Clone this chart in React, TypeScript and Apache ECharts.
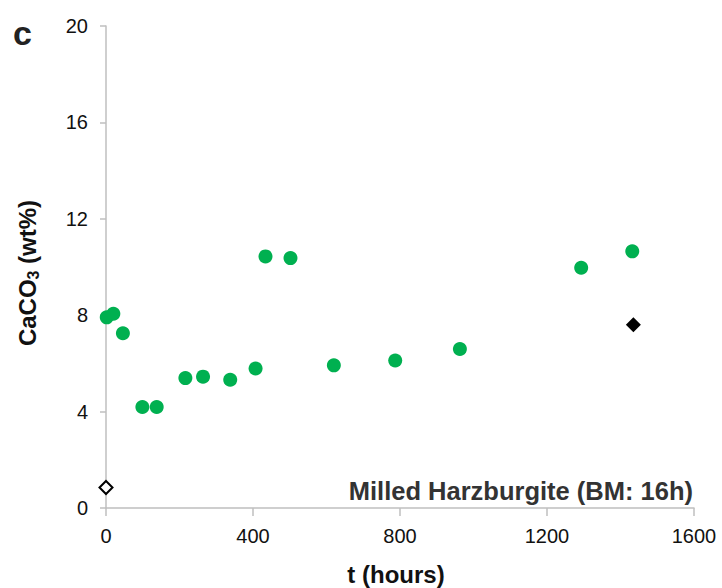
import React, { useEffect, useRef } from "react";
import * as echarts from "echarts";

// Milled harzburgite carbonation: CaCO3 content vs reaction time
const hours = [2, 20, 46, 99, 138, 216, 264, 338, 407, 434, 502, 620, 787, 963, 1293, 1432];
const caco3 = [7.91, 8.06, 7.25, 4.19, 4.19, 5.39, 5.45, 5.32, 5.79, 10.44, 10.37, 5.92, 6.12, 6.6, 9.97, 10.65];

// Starting material (open diamond) and reference sample (filled diamond)
const initialPoint = [0, 0.85];
const referencePoint = [1435, 7.6];

const xTicks = { min: 0, max: 1600, interval: 400 };
const yTicks = { min: 0, max: 20, interval: 4 };

const FONT = "'Liberation Sans', Arial, sans-serif";

export default function App() {
  const ref = useRef<HTMLDivElement>(null);

  useEffect(() => {
    if (!ref.current) return;
    const chart = echarts.init(ref.current, null, { renderer: "svg" });
    const axisLine = { lineStyle: { color: "#bfbfbf", width: 1.5 } };
    const label = {
      color: "#111",
      fontSize: 20,
      fontFamily: FONT,
      margin: 18,
      formatter: (v: number) => String(v),
    };
    chart.setOption({
      animation: false,
      backgroundColor: "#ffffff",
      grid: { left: 106, right: 28, top: 26, bottom: 80 },
      xAxis: {
        type: "value",
        ...xTicks,
        axisLine: { show: true, ...axisLine },
        axisTick: { show: true, length: 8, lineStyle: { color: "#bfbfbf", width: 1.5 } },
        splitLine: { show: false },
        axisLabel: label,
      },
      yAxis: {
        type: "value",
        ...yTicks,
        axisLine: { show: true, ...axisLine },
        axisTick: { show: true, length: 6, lineStyle: { color: "#bfbfbf", width: 1.5 } },
        splitLine: { show: false },
        axisLabel: label,
      },
      series: [
        {
          type: "scatter",
          data: hours.map((h, i) => [h, caco3[i]]),
          symbol: "circle",
          symbolSize: 14,
          itemStyle: { color: "#00b050", opacity: 1 },
          z: 3,
        },
        {
          type: "scatter",
          data: [initialPoint],
          symbol: "diamond",
          symbolSize: [13, 13],
          itemStyle: { color: "#ffffff", borderColor: "#000000", borderWidth: 2, opacity: 1 },
          z: 3,
        },
        {
          type: "scatter",
          data: [referencePoint],
          symbol: "diamond",
          symbolSize: [15, 15],
          itemStyle: { color: "#000000", opacity: 1 },
          z: 3,
        },
      ],
      graphic: [
        {
          type: "text",
          x: 13,
          y: 33,
          style: {
            text: "c",
            fontSize: 34,
            fontWeight: "bold",
            fontFamily: FONT,
            fill: "#222",
            verticalAlign: "middle",
          },
        },
        {
          type: "text",
          x: 693,
          y: 491,
          style: {
            text: "Milled Harzburgite (BM: 16h)",
            fontSize: 25.5,
            fontWeight: "bold",
            fontFamily: FONT,
            fill: "#333",
            align: "right",
            verticalAlign: "middle",
          },
        },
        {
          type: "text",
          x: 396,
          y: 574,
          style: {
            text: "t (hours)",
            fontSize: 24,
            fontWeight: "bold",
            fontFamily: FONT,
            fill: "#111",
            align: "center",
            verticalAlign: "middle",
          },
        },
        {
          type: "text",
          x: 27,
          y: 273,
          rotation: Math.PI / 2,
          style: {
            text: "{m|CaCO}{s|3}{m| (wt%)}",
            align: "center",
            verticalAlign: "middle",
            rich: {
              m: { fontSize: 24, fontWeight: "bold", fontFamily: FONT, fill: "#111", lineHeight: 28, verticalAlign: "middle" },
              s: { fontSize: 16, fontWeight: "bold", fontFamily: FONT, fill: "#111", lineHeight: 28, verticalAlign: "bottom", padding: [12, 0, 0, 0] },
            },
          },
        },
      ],
    });
    return () => chart.dispose();
  }, []);

  return (
    <div
      ref={ref}
      style={{ position: "absolute", left: 0, top: 0, width: 722, height: 588 }}
    />
  );
}
